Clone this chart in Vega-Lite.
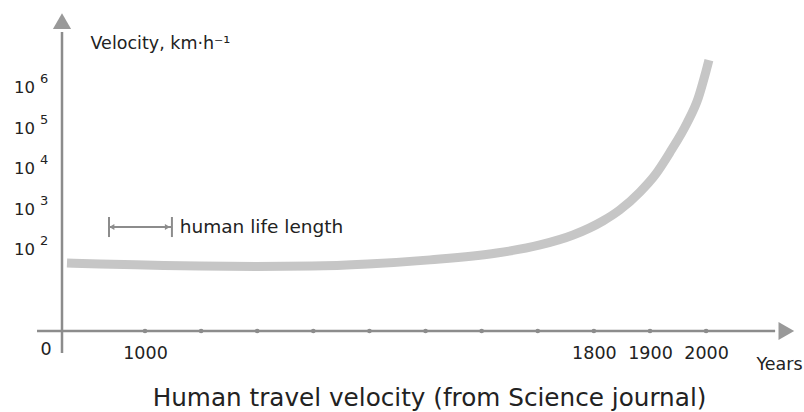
{
  "$schema": "https://vega.github.io/schema/vega-lite/v6.json",
  "width": 735,
  "height": 324,
  "autosize": "none",
  "padding": {"left": 62, "top": 7, "right": 7, "bottom": 81},
  "background": "white",
  "config": {"view": {"stroke": null}, "font": "DejaVu Sans"},
  "title": {"text": "Human travel velocity (from Science journal)", "orient": "bottom", "anchor": "middle", "fontSize": 24.7, "fontWeight": "normal", "color": "#222", "font": "DejaVu Sans", "offset": 13},
  "datasets": {
    "curve": [
      {"year": 60, "v": 48}, {"year": 458, "v": 45}, {"year": 1000, "v": 42.6},
      {"year": 1098, "v": 40}, {"year": 1198, "v": 39}, {"year": 1298, "v": 40},
      {"year": 1397, "v": 45}, {"year": 1508, "v": 57}, {"year": 1627, "v": 84},
      {"year": 1704, "v": 133}, {"year": 1763, "v": 234}, {"year": 1816, "v": 520},
      {"year": 1846, "v": 972}, {"year": 1882, "v": 2700}, {"year": 1909, "v": 7110},
      {"year": 1936, "v": 26300}, {"year": 1966, "v": 136800}, {"year": 1986, "v": 566000},
      {"year": 1998, "v": 2090000}, {"year": 2005, "v": 4900000}
    ],
    "axes": [
      {"x1": 0, "x2": 0, "y1": 0.286, "y2": 24000000},
      {"x1": -301, "x2": 2123, "y1": 1, "y2": 1}
    ],
    "arrows": [
      {"x": 0, "y": 45000000, "shape": "triangle-up"},
      {"x": 2143, "y": 1, "shape": "triangle-right"}
    ],
    "ticks": [
      {"year": 1000}, {"year": 1100}, {"year": 1200}, {"year": 1300}, {"year": 1400},
      {"year": 1500}, {"year": 1600}, {"year": 1700}, {"year": 1800}, {"year": 1900}, {"year": 2000}
    ],
    "ylabels": [
      {"v": 100, "exp": "2"}, {"v": 1000, "exp": "3"}, {"v": 10000, "exp": "4"},
      {"v": 100000, "exp": "5"}, {"v": 1000000, "exp": "6"}
    ],
    "bracketH": [{"x1": 566, "x2": 1048, "y": 370}],
    "bracketV": [{"x": 566, "y1": 209, "y2": 653}, {"x": 1048, "y1": 209, "y2": 653}],
    "bracketArrows": [{"x": 600, "y": 370, "shape": "triangle-left"}, {"x": 1040, "y": 370, "shape": "triangle-right"}],
    "note": [{"x": 1062, "y": 370, "label": "human life length"}],
    "origin": [{"x": 0, "y": 1, "label": "0"}]
  },
  "layer": [
    {
      "data": {"name": "axes"},
      "mark": {"type": "rule", "color": "#8c8c8c", "strokeWidth": 2.5},
      "encoding": {
        "x": {"field": "x1", "type": "quantitative",
              "scale": {"type": "linear", "domain": [0, 1000, 2162], "range": [0, 83, 735], "nice": false, "zero": false},
              "axis": {"values": [1000, 1800, 1900, 2000], "format": "d", "domain": false, "ticks": false, "grid": false,
                       "labelFontSize": 17.5, "labelColor": "#222", "labelPadding": 13, "labelFont": "DejaVu Sans",
                       "title": "Years", "titleX": 717, "titleY": 33, "titleAlign": "center", "titleBaseline": "middle",
                       "titleFontSize": 17.5, "titleFontWeight": "normal", "titleColor": "#222", "titleFont": "DejaVu Sans"}},
        "x2": {"field": "x2"},
        "y": {"field": "y1", "type": "quantitative",
              "scale": {"type": "log", "domain": [1, 100000000], "nice": false},
              "axis": {"domain": false, "ticks": false, "labels": false, "grid": false,
                       "title": "Velocity, km·h⁻¹", "titleAngle": 0, "titleX": 28, "titleY": 36,
                       "titleAlign": "left", "titleBaseline": "middle", "titleFontSize": 17.5,
                       "titleFontWeight": "normal", "titleColor": "#222", "titleFont": "DejaVu Sans"}},
        "y2": {"field": "y2"}
      }
    },
    {
      "data": {"name": "arrows"},
      "mark": {"type": "point", "filled": true, "color": "#999999", "opacity": 1, "size": 330},
      "encoding": {
        "x": {"field": "x", "type": "quantitative"},
        "y": {"field": "y", "type": "quantitative"},
        "shape": {"field": "shape", "type": "nominal", "scale": null}
      }
    },
    {
      "data": {"name": "ticks"},
      "transform": [{"calculate": "1", "as": "v"}],
      "mark": {"type": "circle", "color": "#8c8c8c", "opacity": 1, "size": 22},
      "encoding": {
        "x": {"field": "year", "type": "quantitative"},
        "y": {"field": "v", "type": "quantitative"}
      }
    },
    {
      "data": {"name": "curve"},
      "mark": {"type": "line", "color": "#c6c6c6", "strokeWidth": 9, "interpolate": "monotone", "strokeCap": "butt"},
      "encoding": {
        "x": {"field": "year", "type": "quantitative"},
        "y": {"field": "v", "type": "quantitative"}
      }
    },
    {
      "data": {"name": "ylabels"},
      "mark": {"type": "text", "align": "right", "baseline": "middle", "dx": -27, "fontSize": 16.5, "color": "#222", "text": "10"},
      "encoding": {
        "x": {"datum": 0, "type": "quantitative"},
        "y": {"field": "v", "type": "quantitative"}
      }
    },
    {
      "data": {"name": "ylabels"},
      "mark": {"type": "text", "align": "left", "baseline": "middle", "dx": -22, "dy": -9, "fontSize": 13, "color": "#222"},
      "encoding": {
        "x": {"datum": 0, "type": "quantitative"},
        "y": {"field": "v", "type": "quantitative"},
        "text": {"field": "exp"}
      }
    },
    {
      "data": {"name": "origin"},
      "mark": {"type": "text", "align": "center", "baseline": "middle", "dx": -16, "dy": 19, "fontSize": 17.5, "color": "#222"},
      "encoding": {
        "x": {"field": "x", "type": "quantitative"},
        "y": {"field": "y", "type": "quantitative"},
        "text": {"field": "label"}
      }
    },
    {
      "data": {"name": "bracketH"},
      "mark": {"type": "rule", "color": "#8c8c8c", "strokeWidth": 2},
      "encoding": {
        "x": {"field": "x1", "type": "quantitative"},
        "x2": {"field": "x2"},
        "y": {"field": "y", "type": "quantitative"}
      }
    },
    {
      "data": {"name": "bracketV"},
      "mark": {"type": "rule", "color": "#8c8c8c", "strokeWidth": 2},
      "encoding": {
        "x": {"field": "x", "type": "quantitative"},
        "y": {"field": "y1", "type": "quantitative"},
        "y2": {"field": "y2"}
      }
    },
    {
      "data": {"name": "bracketArrows"},
      "mark": {"type": "point", "filled": true, "color": "#8c8c8c", "opacity": 1, "size": 36},
      "encoding": {
        "x": {"field": "x", "type": "quantitative"},
        "y": {"field": "y", "type": "quantitative"},
        "shape": {"field": "shape", "type": "nominal", "scale": null}
      }
    },
    {
      "data": {"name": "note"},
      "mark": {"type": "text", "align": "left", "baseline": "middle", "fontSize": 18.5, "color": "#222"},
      "encoding": {
        "x": {"field": "x", "type": "quantitative"},
        "y": {"field": "y", "type": "quantitative"},
        "text": {"field": "label"}
      }
    }
  ]
}
